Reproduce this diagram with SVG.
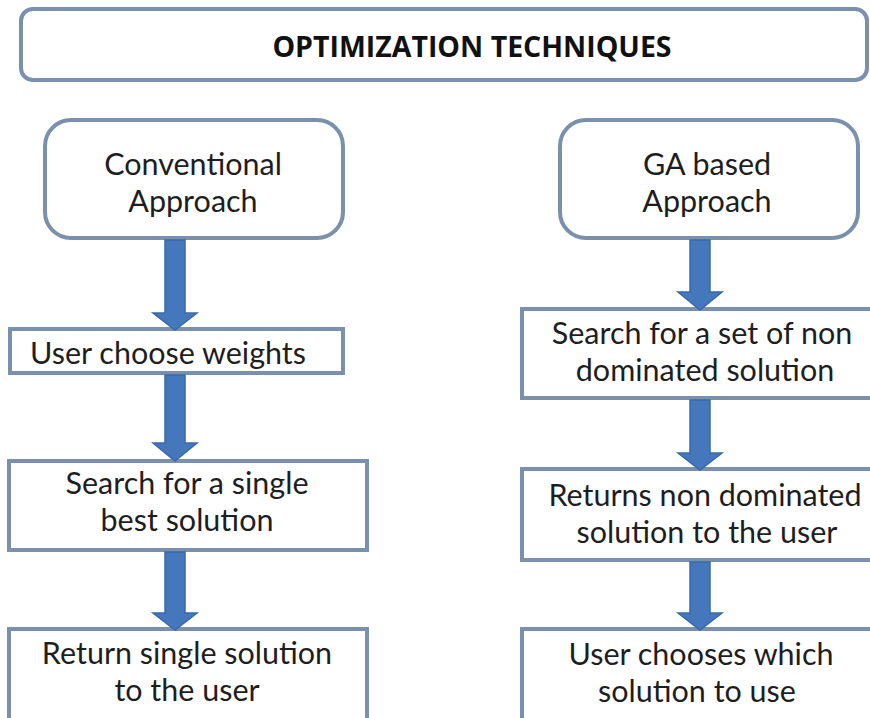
<svg xmlns="http://www.w3.org/2000/svg" width="870" height="718" viewBox="0 0 870 718">
<style>
.box{fill:#fff;stroke:#7b90ad;stroke-width:4}
.t{font-family:Lato,"Open Sans","Liberation Sans",sans-serif;font-size:30.5px;fill:#1e1e1e;text-anchor:middle}
.title{font-family:"Open Sans","Liberation Sans",sans-serif;font-size:28.5px;font-weight:bold;fill:#111;text-anchor:middle}
.arr{fill:#4577bd;stroke:#3a69a8;stroke-width:1.5}
</style>
<rect width="870" height="718" fill="#fff"/>
<g id="title"><rect class="box" x="21" y="9" width="846" height="71" rx="12"/><text class="title" x="472" y="57">OPTIMIZATION TECHNIQUES</text></g>
<g id="conv"><rect class="box" x="45" y="120" width="298" height="118" rx="26"/><text class="t" x="193" y="175">Conventional</text><text class="t" x="193" y="212">Approach</text></g>
<g id="ga"><rect class="box" x="560" y="120" width="298" height="118" rx="26"/><text class="t" x="707" y="175">GA based</text><text class="t" x="707" y="212">Approach</text></g>
<g id="weights"><rect class="box" x="10" y="329" width="333" height="44"/><text class="t" x="168" y="364">User choose weights</text></g>
<g id="single"><rect class="box" x="9" y="461" width="358" height="89"/><text class="t" x="187" y="494">Search for a single</text><text class="t" x="187" y="531">best solution</text></g>
<g id="ret"><rect class="box" x="9" y="629" width="358" height="100"/><text class="t" x="187" y="664">Return single solution</text><text class="t" x="187" y="701">to the user</text></g>
<g id="setnd"><rect class="box" x="522" y="309" width="360" height="89"/><text class="t" x="702" y="344">Search for a set of non</text><text class="t" x="705" y="381">dominated solution</text></g>
<g id="retnd"><rect class="box" x="522" y="469" width="360" height="91"/><text class="t" x="705" y="506">Returns non dominated</text><text class="t" x="707" y="543">solution to the user</text></g>
<g id="choose"><rect class="box" x="522" y="629" width="360" height="100"/><text class="t" x="701" y="665">User chooses which</text><text class="t" x="697" y="702">solution to use</text></g>
<g id="connectors">
<path class="arr" d="M165,240 H185 V313 H197 L175,330 L153,313 H165 Z"/>
<path class="arr" d="M165,375 H185 V443 H197 L175,461 L153,443 H165 Z"/>
<path class="arr" d="M165,552 H185 V613 H197 L175,630 L153,613 H165 Z"/>
<path class="arr" d="M690,240 H710 V292 H722 L700,310 L678,292 H690 Z"/>
<path class="arr" d="M690,400 H710 V453 H722 L700,470 L678,453 H690 Z"/>
<path class="arr" d="M690,562 H710 V613 H722 L700,630 L678,613 H690 Z"/>
</g>
</svg>
